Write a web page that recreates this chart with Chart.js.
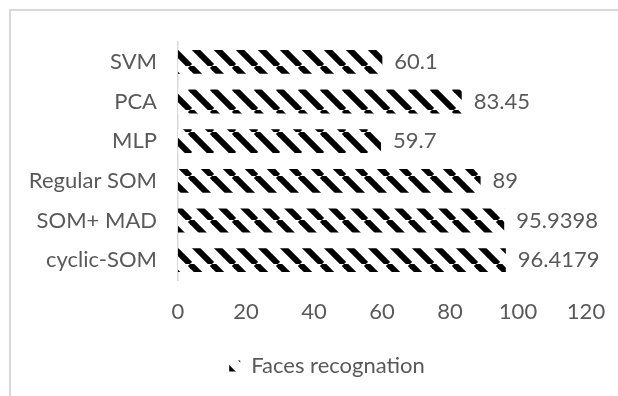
<!DOCTYPE html>
<html>
<head>
<meta charset="utf-8">
<script src="https://cdn.jsdelivr.net/npm/chart.js@4"></script>
<style>
  html, body { margin: 0; padding: 0; background: #fff; }
  #wrap { position: relative; width: 618px; height: 396px; overflow: hidden; }
  #frame { position: absolute; left: 9px; top: 9px; width: 700px; height: 500px;
           border-left: 2px solid #d9d9d9; border-top: 2px solid #d9d9d9; }
  #c { position: absolute; left: 0; top: 0; }
</style>
</head>
<body>
<div id="wrap"><div id="frame"></div><canvas id="c" width="618" height="396"></canvas></div>
<script>
const categories = ['SVM', 'PCA', 'MLP', 'Regular SOM', 'SOM+ MAD', 'cyclic-SOM'];
const recognitionRates = [60.1, 83.45, 59.7, 89, 95.9398, 96.4179];
const xTicks = [0, 20, 40, 60, 80, 100, 120];
const seriesName = 'Faces recognation';

const TEXT = '#595959';
const FONT = 'Lato';
const FONT_SIZE = 22;

// wide downward diagonal hatch
function stripePattern() {
  const w = 22, h = 22;
  const tile = document.createElement('canvas');
  tile.width = w; tile.height = h;
  const g = tile.getContext('2d');
  g.fillStyle = '#fff';
  g.fillRect(0, 0, w, h);
  g.strokeStyle = '#000';
  g.lineWidth = 6;
  for (const o of [-w, 0, w]) {
    g.beginPath();
    g.moveTo(o, 0);
    g.lineTo(o + w, h);
    g.stroke();
  }
  const p = g.createPattern(tile, 'repeat');
  p.setTransform(new DOMMatrix().translate(14, 0));
  return p;
}
const hatch = stripePattern();

// value printed just past the end of each bar
const valueLabels = {
  id: 'valueLabels',
  afterDatasetsDraw(chart) {
    const ctx = chart.ctx;
    const meta = chart.getDatasetMeta(0);
    const data = chart.data.datasets[0].data;
    ctx.save();
    ctx.font = FONT_SIZE + 'px ' + FONT;
    ctx.fillStyle = TEXT;
    ctx.textAlign = 'left';
    ctx.textBaseline = 'middle';
    meta.data.forEach((bar, i) => {
      ctx.fillText(String(data[i]), bar.x + 12, bar.y);
    });
    ctx.restore();
  }
};

// legend sits centred under the whole frame, which runs past the right edge
const legendShift = {
  id: 'legendShift',
  afterLayout(chart) {
    if (chart.legend) {
      chart.legend.left += 29;
      chart.legend.right += 29;
    }
  }
};

new Chart(document.getElementById('c'), {
  type: 'bar',
  data: {
    labels: categories,
    datasets: [{
      label: seriesName,
      data: recognitionRates,
      backgroundColor: hatch,
      borderWidth: 0,
      categoryPercentage: 1,
      barPercentage: 0.6
    }]
  },
  options: {
    indexAxis: 'y',
    responsive: false,
    animation: false,
    layout: { padding: { left: 10, top: 42, right: 32, bottom: 9 } },
    scales: {
      x: {
        min: 0, max: 120,
        afterBuildTicks(scale) { scale.ticks = xTicks.map(v => ({ value: v })); },
        afterFit(scale) { scale.height = 65; },
        grid: { display: false },
        border: { display: false },
        ticks: { color: TEXT, font: { family: FONT, size: FONT_SIZE }, padding: 11, maxRotation: 0 }
      },
      y: {
        afterFit(scale) { scale.width = 168; },
        grid: { display: false },
        border: { display: true, color: '#d9d9d9', width: 1.5 },
        ticks: { color: TEXT, font: { family: FONT, size: FONT_SIZE }, padding: 13 }
      }
    },
    plugins: {
      legend: {
        position: 'bottom',
        labels: {
          color: TEXT,
          font: { family: FONT, size: FONT_SIZE },
          boxWidth: 11,
          boxHeight: 11,
          padding: 10
        }
      },
      tooltip: { enabled: false }
    }
  },
  plugins: [valueLabels, legendShift]
});
</script>
</body>
</html>
